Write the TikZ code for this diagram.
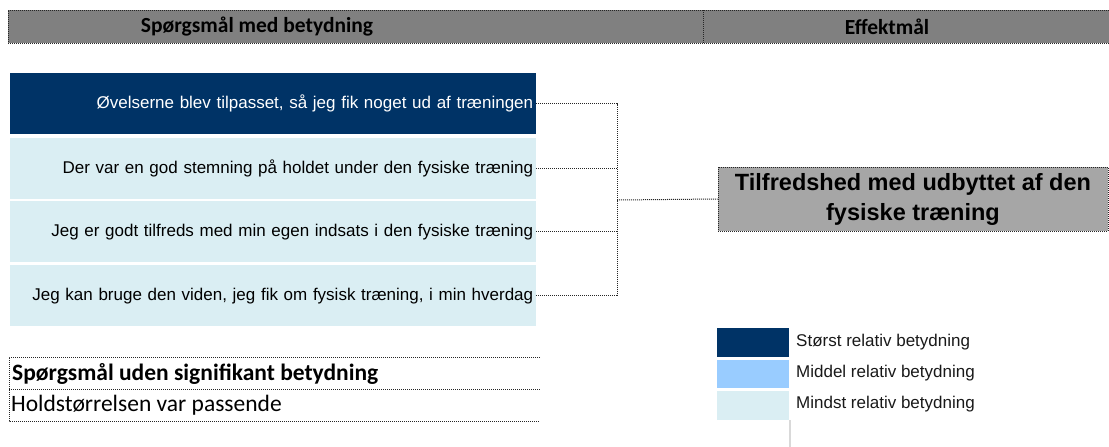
\documentclass[tikz,border=0pt]{standalone}
\usepackage{fontspec}
\setmainfont{Liberation Sans}
\newfontfamily\calfont{Carlito}
\definecolor{navy}{HTML}{003366}
\definecolor{lightb}{HTML}{DAEEF3}
\definecolor{midb}{HTML}{99CCFF}
\definecolor{headgray}{HTML}{808080}
\definecolor{goalgray}{HTML}{A6A6A6}
\begin{document}
\begin{tikzpicture}[x=1pt,y=-1pt,
  dotb/.style={draw=black!85, line width=1pt, dash pattern=on 1pt off 1pt},
  qbox/.style={minimum width=526pt, minimum height=61pt, inner xsep=3pt, inner ysep=0pt,
    text width=520pt, align=right, anchor=north west, font=\fontsize{17}{19}\selectfont},
  legbox/.style={minimum width=72pt, minimum height=28.5pt, inner sep=0pt, anchor=north west},
  legtxt/.style={anchor=west, inner sep=0pt, font=\fontsize{17}{19}\selectfont, text=black!90},
  headtxt/.style={font=\calfont\bfseries\fontsize{21.5}{24}\selectfont, inner sep=0pt},
  tabtxt/.style={anchor=west, inner sep=0pt, font=\calfont\fontsize{23.5}{26}\selectfont}]
\useasboundingbox (0,0) rectangle (1109,447);

% header
\node[fill=headgray, minimum width=1101pt, minimum height=33pt, inner sep=0pt, anchor=north west] (hdr) at (8,10) {};
\draw[dotb] (1109,10) -- (8,10) -- (8,43) -- (1109,43);
\draw[dotb] (703,10) -- (703,43);
\node[headtxt] (h1) at (257,27) {Spørgsmål med betydning};
\node[headtxt] (h2) at (887,27) {Effektmål};

% question boxes
\node[qbox, fill=navy, text=white] (q1) at (10,73) {Øvelserne blev tilpasset, så jeg fik noget ud af træningen};
\node[qbox, fill=lightb] (q2) at (10,137.5) {Der var en god stemning på holdet under den fysiske træning};
\node[qbox, fill=lightb] (q3) at (10,201) {Jeg er godt tilfreds med min egen indsats i den fysiske træning};
\node[qbox, fill=lightb] (q4) at (10,265) {Jeg kan bruge den viden, jeg fik om fysisk træning, i min hverdag};

% goal
\node[fill=goalgray, dotb, minimum width=390pt, minimum height=64pt, inner sep=0pt,
  align=center, font=\bfseries\fontsize{23.5}{30}\selectfont] (goal) at (913,199)
  {Tilfredshed med udbyttet af den\\fysiske træning};

% connectors
\coordinate (j) at (617,200);
\draw[dotb] (q1.east) -| (j);
\draw[dotb] (q4.east) -| (j);
\draw[dotb] (q2.east) -- (q2.east -| j);
\draw[dotb] (q3.east) -- (q3.east -| j);
\draw[dotb] (j) -- (goal.west);

% table of non-significant questions
\node[tabtxt, font=\calfont\bfseries\fontsize{23.5}{26}\selectfont] (ns) at (12,373.5) {Spørgsmål uden signifikant betydning};
\node[tabtxt] (hs) at (11,405.5) {Holdstørrelsen var passende};
\draw[dotb] (540,357) -- (9,357) -- (9,421) -- (540,421);
\draw[dotb] (9,389) -- (540,389);

% legend
\node[legbox, fill=navy] (l1) at (717,328) {};
\node[legbox, fill=midb] (l2) at (717,359.5) {};
\node[legbox, fill=lightb] (l3) at (717,391) {};
\draw[black!15, line width=1.5pt] (790,420) -- (790,447);
\node[legtxt] (lt1) at (796,342) {Størst relativ betydning};
\node[legtxt] (lt2) at (796,373) {Middel relativ betydning};
\node[legtxt] (lt3) at (796,404) {Mindst relativ betydning};
\end{tikzpicture}
\end{document}
